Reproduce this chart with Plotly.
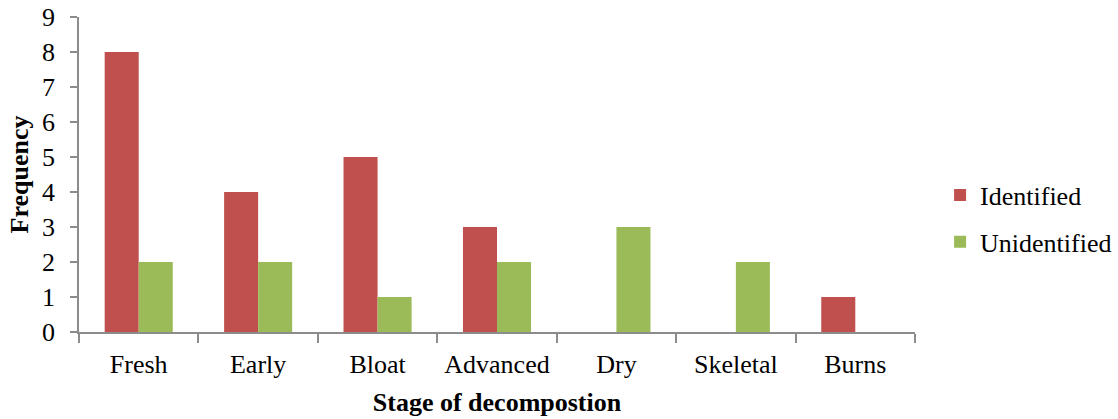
import plotly.graph_objects as go

stages = ["Fresh", "Early", "Bloat", "Advanced", "Dry", "Skeletal", "Burns"]
identified = [8, 4, 5, 3, 0, 0, 1]
unidentified = [2, 2, 1, 2, 3, 2, 0]
y_ticks = list(range(0, 10))

font_family = "Liberation Serif, Times New Roman, serif"
axis_color = "#8c8c8c"

fig = go.Figure()
fig.add_trace(go.Bar(x=stages, y=identified, name="Identified",
                     marker=dict(color="#C0504D", line=dict(width=0)),
                     legendgroup="a"))
fig.add_trace(go.Bar(x=stages, y=unidentified, name="Unidentified",
                     marker=dict(color="#9BBB59", line=dict(width=0)),
                     legendgroup="b"))

fig.update_layout(
    width=1118, height=419,
    margin=dict(l=79, r=203, t=17, b=87, autoexpand=False),
    plot_bgcolor="white", paper_bgcolor="white",
    barmode="group", bargap=0.43, bargroupgap=0,
    font=dict(family=font_family, size=26, color="black"),
    showlegend=True,
    legend=dict(x=1.03, y=0.36, xanchor="left", yanchor="middle",
                traceorder="grouped", tracegroupgap=10,
                font=dict(size=26), itemwidth=30),
)
fig.update_xaxes(
    showline=True, linecolor=axis_color, linewidth=1.5, automargin=False,
    ticks="outside", tickson="boundaries", ticklen=9, tickcolor=axis_color,
    tickwidth=1.5, showgrid=False, ticklabelstandoff=8,
    title=dict(text="<b>Stage of decompostion</b>", standoff=15,
               font=dict(size=26)),
    tickfont=dict(size=26),
)
fig.update_yaxes(
    range=[0, 9], tickvals=y_ticks, showline=True, linecolor=axis_color,
    linewidth=1.5, ticks="outside", ticklen=7, tickcolor=axis_color,
    tickwidth=1.5, showgrid=False, zeroline=False, ticklabelstandoff=10,
    automargin=False,
    title=dict(text="<b>Frequency</b>", standoff=6, font=dict(size=26)),
    tickfont=dict(size=26),
)

fig.write_html("out.html")
